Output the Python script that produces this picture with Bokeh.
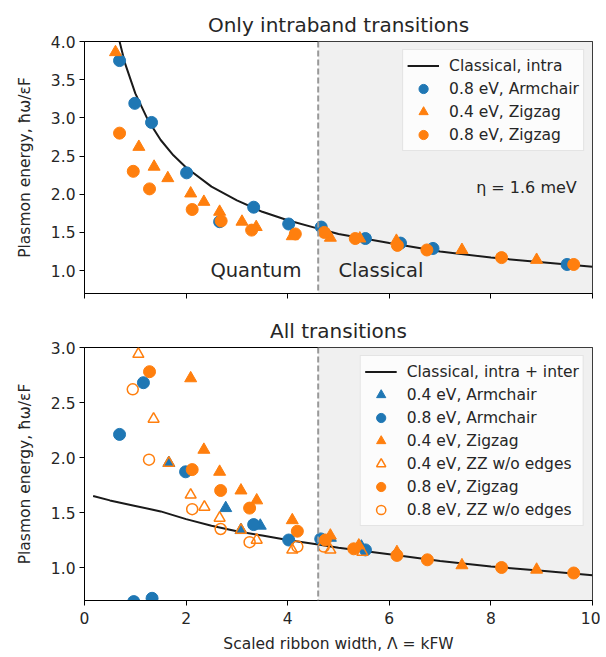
from bokeh.plotting import figure
from bokeh.models import (Range1d, FixedTicker, PrintfTickFormatter, Legend, LegendItem,
                          BoxAnnotation, Span, Label)
from bokeh.layouts import column
from bokeh.embed import file_html
from bokeh.resources import INLINE

# ---------------- data ----------------
BLUE = "#1f77b4"
ORANGE = "#ff7f0e"
BOUNDARY = 4.6

# Top panel: only intraband transitions
top_curve_x = [0.69, 0.8, 1.0, 1.25, 1.5, 1.75, 2.0, 2.5, 3.0, 3.5, 4.0, 4.6, 5.0, 6.0, 7.0, 8.0, 9.0, 10.0]
top_curve_y = [4.0, 3.71, 3.32, 2.97, 2.71, 2.51, 2.35, 2.10, 1.92, 1.77, 1.66, 1.55, 1.48, 1.36, 1.25, 1.17, 1.11, 1.05]

top_ac08_x = [0.69, 0.99, 1.32, 2.01, 2.66, 3.33, 4.02, 4.66, 5.53, 6.22, 6.86, 9.50]
top_ac08_y = [3.75, 3.19, 2.94, 2.28, 1.64, 1.83, 1.61, 1.57, 1.42, 1.36, 1.29, 1.08]

top_zz04_x = [0.61, 1.07, 1.37, 1.64, 2.09, 2.35, 2.66, 3.10, 3.38, 4.09, 4.84, 5.42, 6.14, 7.43, 8.90]
top_zz04_y = [3.86, 2.62, 2.36, 2.21, 2.01, 1.90, 1.77, 1.64, 1.57, 1.45, 1.43, 1.42, 1.39, 1.27, 1.14]

top_zz08_x = [0.69, 0.96, 1.28, 2.12, 2.69, 3.29, 4.15, 4.72, 5.33, 6.16, 6.74, 8.21, 9.63]
top_zz08_y = [2.80, 2.30, 2.07, 1.80, 1.65, 1.53, 1.48, 1.50, 1.42, 1.33, 1.27, 1.17, 1.08]

# Bottom panel: all transitions
bot_curve_x = [0.17, 0.5, 1.0, 1.5, 2.0, 2.5, 3.0, 3.5, 4.0, 4.6, 5.0, 6.0, 7.0, 8.0, 9.0, 10.0]
bot_curve_y = [1.65, 1.61, 1.56, 1.51, 1.44, 1.38, 1.33, 1.29, 1.25, 1.21, 1.18, 1.12, 1.06, 1.01, 0.97, 0.93]

bot_ac04_x = [1.66, 2.78, 3.08, 3.46, 4.84, 5.45]
bot_ac04_y = [1.95, 1.54, 1.34, 1.38, 1.27, 1.19]

bot_ac08_x = [0.69, 0.97, 1.16, 1.33, 1.99, 3.33, 4.02, 4.65, 5.53]
bot_ac08_y = [2.21, 0.69, 2.68, 0.72, 1.87, 1.39, 1.25, 1.26, 1.16]

bot_zz04_x = [2.09, 2.35, 2.66, 3.08, 3.39, 4.09, 4.84, 5.40, 6.15, 7.43, 8.90]
bot_zz04_y = [2.72, 2.07, 1.87, 1.70, 1.61, 1.43, 1.29, 1.20, 1.14, 1.02, 0.98]

bot_zz04_noedge_x = [1.06, 1.36, 1.66, 2.09, 2.36, 2.66, 3.08, 3.39, 4.09, 4.84, 5.47]
bot_zz04_noedge_y = [2.94, 2.35, 1.95, 1.66, 1.55, 1.45, 1.34, 1.25, 1.16, 1.16, 1.14]

bot_zz08_x = [1.28, 2.12, 2.68, 3.25, 4.19, 4.74, 5.30, 6.15, 6.75, 8.21, 9.63]
bot_zz08_y = [2.78, 1.89, 1.70, 1.54, 1.33, 1.25, 1.17, 1.11, 1.07, 1.00, 0.95]

bot_zz08_noedge_x = [0.95, 1.27, 2.12, 2.68, 3.25, 4.19, 4.71]
bot_zz08_noedge_y = [2.62, 1.98, 1.53, 1.35, 1.23, 1.19, 1.19]

x_ticks = [0, 2, 4, 6, 8, 10]
top_y_ticks = [1.0, 1.5, 2.0, 2.5, 3.0, 3.5, 4.0]
bot_y_ticks = [1.0, 1.5, 2.0, 2.5, 3.0]

FONT = "DejaVu Sans"
TXT = "#262626"


def style(p, yticks, show_xlabels):
    p.xgrid.visible = False
    p.ygrid.visible = False
    p.outline_line_color = "black"
    p.outline_line_width = 1
    p.outline_line_alpha = 1
    p.title.text_font = FONT
    p.title.text_font_size = "20px"
    p.title.text_font_style = "normal"
    p.title.text_color = TXT
    p.title.align = "center"
    p.title.standoff = 10
    for ax in (p.xaxis[0], p.yaxis[0]):
        ax.axis_line_color = "black"
        ax.major_tick_line_color = "black"
        ax.major_tick_out = 5
        ax.major_tick_in = 0
        ax.minor_tick_line_color = None
        ax.major_label_text_font = FONT
        ax.major_label_text_font_size = "15.5px"
        ax.major_label_text_color = TXT
        ax.axis_label_text_font = FONT
        ax.axis_label_text_font_size = "15.5px"
        ax.axis_label_text_font_style = "normal"
        ax.axis_label_text_color = TXT
        ax.major_label_standoff = 4
    p.xaxis.ticker = FixedTicker(ticks=x_ticks)
    p.yaxis.ticker = FixedTicker(ticks=yticks)
    p.yaxis.formatter = PrintfTickFormatter(format="%.1f")
    p.yaxis.axis_label = "Plasmon energy, ħω/εF"
    p.yaxis.axis_label_standoff = 14
    if not show_xlabels:
        p.xaxis.major_label_overrides = {t: "" for t in x_ticks}
    else:
        p.xaxis.major_label_standoff = 6
        p.xaxis.axis_label = "Scaled ribbon width, Λ = kFW"
        p.xaxis.axis_label_standoff = 8


def legend_style(lg):
    lg.location = "top_right"
    lg.margin = 8
    lg.border_line_color = "#cccccc"
    lg.border_line_width = 1
    lg.background_fill_color = "white"
    lg.background_fill_alpha = 0.8
    lg.label_text_font = FONT
    lg.label_text_font_size = "15.5px"
    lg.label_text_color = TXT
    lg.glyph_width = 32
    lg.glyph_height = 23
    lg.label_height = 23
    lg.spacing = 0
    lg.padding = 4
    lg.label_standoff = 10


# ---------------- top panel ----------------
p1 = figure(width=600, height=308, x_range=Range1d(0, 10), y_range=Range1d(0.7, 4.0),
            output_backend="svg", toolbar_location=None, title="Only intraband transitions",
            min_border_left=84, min_border_right=8, min_border_top=41, min_border_bottom=15)
style(p1, top_y_ticks, False)

p1.add_layout(BoxAnnotation(left=BOUNDARY, right=10, fill_color="#f0f0f0", fill_alpha=1,
                            line_color=None, level="underlay"))
p1.add_layout(Span(location=BOUNDARY, dimension="height", line_color="#999999",
                   line_width=2, line_dash="6 3"))

r_c1 = p1.line(top_curve_x, top_curve_y, line_color="#1a1a1a", line_width=2)
r_a1 = p1.scatter(top_ac08_x, top_ac08_y, marker="circle", size=12, fill_color=BLUE, line_color=BLUE)
r_z41 = p1.scatter(top_zz04_x, top_zz04_y, marker="triangle", size=12, fill_color=ORANGE, line_color=ORANGE)
r_z81 = p1.scatter(top_zz08_x, top_zz08_y, marker="circle", size=12, fill_color=ORANGE, line_color=ORANGE)

p1.add_layout(Label(x=4.27, y=1.0, text="Quantum", text_align="right", text_baseline="middle",
                    text_font=FONT, text_font_size="19.5px", text_color=TXT))
p1.add_layout(Label(x=5.0, y=1.0, text="Classical", text_align="left", text_baseline="middle",
                    text_font=FONT, text_font_size="19.5px", text_color=TXT))
p1.add_layout(Label(x=9.69, y=2.09, text="η = 1.6 meV", text_align="right", text_baseline="middle",
                    text_font=FONT, text_font_size="16px", text_color=TXT))

lg1 = Legend(items=[
    LegendItem(label="Classical, intra", renderers=[r_c1]),
    LegendItem(label="0.8 eV, Armchair", renderers=[r_a1]),
    LegendItem(label="0.4 eV, Zigzag", renderers=[r_z41]),
    LegendItem(label="0.8 eV, Zigzag", renderers=[r_z81]),
])
legend_style(lg1)
p1.add_layout(lg1)

# ---------------- bottom panel ----------------
p2 = figure(width=600, height=347, x_range=Range1d(0, 10), y_range=Range1d(0.7, 3.0),
            output_backend="svg", toolbar_location=None, title="All transitions",
            min_border_left=84, min_border_right=8, min_border_top=39, min_border_bottom=54)
style(p2, bot_y_ticks, True)

p2.add_layout(BoxAnnotation(left=BOUNDARY, right=10, fill_color="#f0f0f0", fill_alpha=1,
                            line_color=None, level="underlay"))
p2.add_layout(Span(location=BOUNDARY, dimension="height", line_color="#999999",
                   line_width=2, line_dash="6 3"))

r_c2 = p2.line(bot_curve_x, bot_curve_y, line_color="#1a1a1a", line_width=2)
r_a4 = p2.scatter(bot_ac04_x, bot_ac04_y, marker="triangle", size=12, fill_color=BLUE, line_color=BLUE)
r_a8 = p2.scatter(bot_ac08_x, bot_ac08_y, marker="circle", size=12, fill_color=BLUE, line_color=BLUE)
r_z4 = p2.scatter(bot_zz04_x, bot_zz04_y, marker="triangle", size=12, fill_color=ORANGE, line_color=ORANGE)
r_z4n = p2.scatter(bot_zz04_noedge_x, bot_zz04_noedge_y, marker="triangle", size=11, fill_color=None,
                   line_color=ORANGE, line_width=1.5)
r_z8 = p2.scatter(bot_zz08_x, bot_zz08_y, marker="circle", size=12, fill_color=ORANGE, line_color=ORANGE)
r_z8n = p2.scatter(bot_zz08_noedge_x, bot_zz08_noedge_y, marker="circle", size=11, fill_color=None,
                   line_color=ORANGE, line_width=1.5)

lg2 = Legend(items=[
    LegendItem(label="Classical, intra + inter", renderers=[r_c2]),
    LegendItem(label="0.4 eV, Armchair", renderers=[r_a4]),
    LegendItem(label="0.8 eV, Armchair", renderers=[r_a8]),
    LegendItem(label="0.4 eV, Zigzag", renderers=[r_z4]),
    LegendItem(label="0.4 eV, ZZ w/o edges", renderers=[r_z4n]),
    LegendItem(label="0.8 eV, Zigzag", renderers=[r_z8]),
    LegendItem(label="0.8 eV, ZZ w/o edges", renderers=[r_z8n]),
])
legend_style(lg2)
p2.add_layout(lg2)

layout = column(p1, p2)
open("out.html", "w").write(file_html(layout, INLINE))
